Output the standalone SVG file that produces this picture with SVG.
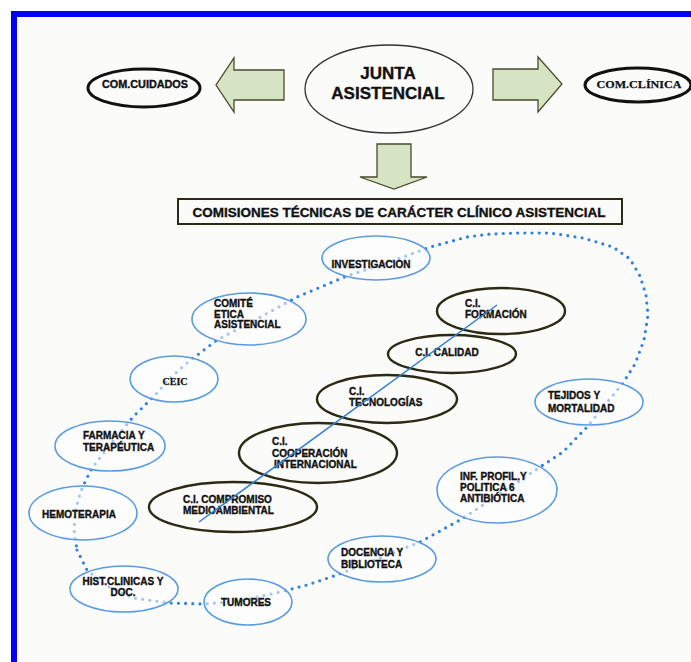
<svg xmlns="http://www.w3.org/2000/svg" width="691" height="662" viewBox="0 0 691 662">
  <style>
    .lbl { font-family: "Liberation Sans", Arial, sans-serif; font-weight: bold; fill: #111; stroke: #111; stroke-width: 0.35; }
    .ser { font-family: "Liberation Serif", "Times New Roman", serif; font-weight: bold; fill: #111; stroke: #111; stroke-width: 0.25; }
    .blk { fill: #fbfbfa; stroke: #111; stroke-width: 3; }
    .arrow { fill: #d6e4c4; stroke: #4a4a2c; stroke-width: 1.3; stroke-linejoin: miter; }
    .ring { fill: #ffffff; fill-opacity: 0.55; stroke: #5a9be2; stroke-width: 1.6; }
    .ci { fill: none; stroke: #2b2a14; stroke-width: 2.4; }
    .dots { fill: none; stroke: #2f80e2; stroke-width: 3.2; stroke-linecap: round; stroke-dasharray: 0 7.2; }
  </style>

  <!-- page -->
  <rect x="0" y="0" width="691" height="662" fill="#ffffff"/>
  <rect x="17" y="17" width="674" height="645" fill="#fbfbfa"/>
  <rect x="11" y="11" width="680" height="6" fill="#0000ff"/>
  <rect x="11" y="11" width="6" height="651" fill="#0000ff"/>

  <!-- top level: board and its two sibling committees -->
  <g id="junta">
    <ellipse cx="389" cy="89" rx="84" ry="44" fill="#fbfbfa" stroke="#333" stroke-width="1.3"/>
    <text class="lbl" x="388" y="79" font-size="17" text-anchor="middle">JUNTA</text>
    <text class="lbl" x="388" y="99" font-size="17" text-anchor="middle">ASISTENCIAL</text>
  </g>
  <g id="com-cuidados">
    <ellipse class="blk" cx="144" cy="88" rx="56" ry="19"/>
    <text class="lbl" x="145" y="88" font-size="10" text-anchor="middle" textLength="86" lengthAdjust="spacingAndGlyphs">COM.CUIDADOS</text>
  </g>
  <g id="com-clinica">
    <ellipse class="blk" cx="638" cy="85" rx="53" ry="17"/>
    <text class="ser" x="639" y="88" font-size="11" text-anchor="middle" textLength="85" lengthAdjust="spacingAndGlyphs">COM.CLÍNICA</text>
  </g>

  <g id="block-arrows">
    <path class="arrow" d="M284,70 L234,70 L234,58 L216,85 L234,112 L234,100 L284,100 Z"/>
    <path class="arrow" d="M493,69 L538,69 L538,57 L562,84 L538,112 L538,100 L493,100 Z"/>
    <path class="arrow" d="M377,144 L411,144 L411,177 L427,177 L394,189 L360,177 L377,177 Z"/>
  </g>

  <g id="titulo">
    <rect x="178" y="199" width="444" height="25" fill="#fbfbfa" stroke="#2b2a14" stroke-width="2"/>
    <text class="lbl" x="399" y="217" font-size="13" text-anchor="middle" textLength="413" lengthAdjust="spacingAndGlyphs">COMISIONES TÉCNICAS DE CARÁCTER CLÍNICO ASISTENCIAL</text>
  </g>

  <!-- connectors: dotted ring of technical committees and the C.I. axis -->
  <g id="connectors">
    <path class="dots" d="M77,550 L87,570 L105,585 L133,598 L170,603 L203,604 L240,601 L280,592 L307,585 L337,575 L380,558 L420,542 L460,520 L500,494 L540,467 L563,452 L587,427 L605,405 L623,383 L635,364 L644,340 L648,315 L646,295 L640,276 L630,259 L613,247 L583,238 L550,233 L517,233 L490,234 L467,237 L430,247 L390,262 L347,276 L297,297 L255,320 L217,340 L200,353 L187,363 L170,378 L157,393 L133,417 L110,445 L92,468 L83,486 L78,500 L75,515 L74,530 Z"/>
  </g>

  <!-- technical committees on the ring -->
  <g id="investigacion">
    <ellipse class="ring" cx="376" cy="258" rx="54" ry="22"/>
    <text class="lbl" x="371" y="268" font-size="10" text-anchor="middle">INVESTIGACION</text>
  </g>
  <g id="comite-etica">
    <ellipse class="ring" cx="249" cy="319" rx="57" ry="26"/>
    <text class="lbl" x="214" y="307" font-size="10">COMITÉ</text>
    <text class="lbl" x="214" y="317.5" font-size="10">ETICA</text>
    <text class="lbl" x="214" y="328" font-size="10">ASISTENCIAL</text>
  </g>
  <g id="ceic">
    <ellipse class="ring" cx="174" cy="379" rx="44" ry="23"/>
    <text class="ser" x="175" y="385" font-size="10" text-anchor="middle">CEIC</text>
  </g>
  <g id="farmacia">
    <ellipse class="ring" cx="110" cy="446" rx="55" ry="25"/>
    <text class="lbl" x="83" y="439" font-size="10">FARMACIA Y</text>
    <text class="lbl" x="83" y="451" font-size="10">TERAPÉUTICA</text>
  </g>
  <g id="hemoterapia">
    <ellipse class="ring" cx="83" cy="513" rx="54" ry="27"/>
    <text class="lbl" x="42" y="518" font-size="10">HEMOTERAPIA</text>
  </g>
  <g id="hist-clinicas">
    <ellipse class="ring" cx="124" cy="589" rx="54" ry="23"/>
    <text class="lbl" x="123" y="585" font-size="10" text-anchor="middle">HIST.CLINICAS Y</text>
    <text class="lbl" x="123" y="596" font-size="10" text-anchor="middle">DOC.</text>
  </g>
  <g id="tumores">
    <ellipse class="ring" cx="248" cy="602" rx="44" ry="23"/>
    <text class="lbl" x="246" y="606" font-size="10" text-anchor="middle">TUMORES</text>
  </g>
  <g id="docencia">
    <ellipse class="ring" cx="382" cy="559" rx="54" ry="23"/>
    <text class="lbl" x="341" y="556" font-size="10">DOCENCIA Y</text>
    <text class="lbl" x="341" y="568" font-size="10">BIBLIOTECA</text>
  </g>
  <g id="inf-profil">
    <ellipse class="ring" cx="497" cy="490" rx="60" ry="33"/>
    <text class="lbl" x="460" y="480" font-size="10">INF. PROFIL.Y</text>
    <text class="lbl" x="460" y="491" font-size="10">POLITICA 6</text>
    <text class="lbl" x="460" y="502" font-size="10">ANTIBIÓTICA</text>
  </g>
  <g id="tejidos">
    <ellipse class="ring" cx="589" cy="402" rx="54" ry="23"/>
    <text class="lbl" x="548" y="399" font-size="10">TEJIDOS Y</text>
    <text class="lbl" x="548" y="412" font-size="10">MORTALIDAD</text>
  </g>

  <!-- inter-committee C.I. chain -->
  <g id="ci-formacion">
    <ellipse class="ci" cx="501" cy="311" rx="64" ry="23"/>
    <text class="lbl" x="465" y="307" font-size="10">C.I.</text>
    <text class="lbl" x="465" y="318" font-size="10">FORMACIÓN</text>
  </g>
  <g id="ci-calidad">
    <ellipse class="ci" cx="452" cy="354" rx="64" ry="19"/>
    <text class="lbl" x="447" y="356" font-size="10" text-anchor="middle">C.I. CALIDAD</text>
  </g>
  <g id="ci-tecnologias">
    <ellipse class="ci" cx="387" cy="399" rx="70" ry="24"/>
    <text class="lbl" x="349" y="395" font-size="10">C.I.</text>
    <text class="lbl" x="349" y="406" font-size="10">TECNOLOGÍAS</text>
  </g>
  <g id="ci-cooperacion">
    <ellipse class="ci" cx="318" cy="453" rx="79" ry="30"/>
    <text class="lbl" x="272" y="445" font-size="10">C.I.</text>
    <text class="lbl" x="272" y="457" font-size="10">COOPERACIÓN</text>
    <text class="lbl" x="274" y="468" font-size="10">INTERNACIONAL</text>
  </g>
  <g id="ci-compromiso">
    <ellipse class="ci" cx="233" cy="507" rx="84" ry="25"/>
    <text class="lbl" x="183" y="503" font-size="10">C.I. COMPROMISO</text>
    <text class="lbl" x="183" y="514" font-size="10">MEDIOAMBIENTAL</text>
  </g>

  <g id="ci-axis">
    <line x1="199" y1="522" x2="497" y2="305" stroke="#2f7fd6" stroke-width="1.5"/>
  </g>
</svg>
